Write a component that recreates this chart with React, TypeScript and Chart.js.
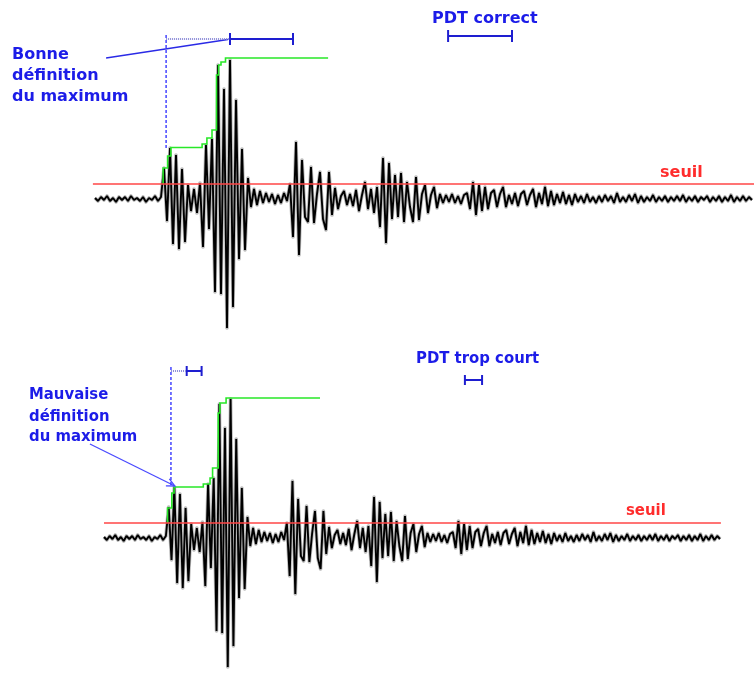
import React, { useEffect, useRef } from "react";
import { Chart, registerables } from "chart.js";
Chart.register(...registerables);

// Acoustic-emission waveform: one amplitude per sample (index = time in samples)
const signal: number[] = [
  1, -2, 2, -1, 3, -2, 1, -3, 2, -1,
  2, -2, 3, -1, 1, -2, 2, -3, 1, -1,
  3, -2, 2, 31, -22, 51, -45, 44, -50, 30,
  -43, 14, -12, 10, -14, 16, -48, 54, -30, 60,
  -93, 134, -95, 110, -129, 139, -108, 99, -60, 50,
  -51, 21, -8, 10, -6, 8, -4, 6, -3, 5,
  -5, 4, -4, 6, -2, 15, -38, 57, -56, 39,
  -18, -23, 32, -24, 5, 27, -20, -31, 27, -16,
  11, -10, 3, 8, -6, 5, -7, 9, -12, 4,
  17, -10, 10, -14, 12, -28, 41, -44, 36, -20,
  24, -18, 26, -23, 17, -8, -23, 22, -21, 5,
  14, -14, 4, 12, -9, 5, -4, 4, -3, 5,
  -4, 3, -5, 4, 6, -10, 17, -16, 14, -12,
  12, -10, 6, 9, -8, 5, 12, -8, 4, -5,
  6, -7, 5, 8, -6, 4, 10, -8, 6, -5,
  12, -7, 8, -6, 5, -4, 7, -5, 4, -6,
  5, -3, 3, -4, 5, -3, 2, -4, 3, -3,
  4, -2, 3, -4, 6, -3, 2, -3, 4, -2,
  5, -4, 3, -3, 2, -2, 4, -3, 2, -2,
  3, -3, 2, -2, 3, -2, 4, -3, 2, -2,
  3, -3, 2, -1, 3, -3, 2, -2, 3, -3,
  2, -2, 4, -3, 2, -2, 3, -2, 2, -1,
];

const thresholdLevel = 15;

// Running maximum (green step curve) — top: good definition, bottom: bad definition
const envTopTime = [22.7, 22.7, 24.2, 25.3, 35.7, 37.3, 39.0, 40.5, 41.2, 42.0, 43.5, 77.7];
const envTopAmp = [15, 31, 43, 51.5, 55, 61, 69, 124, 134, 137, 141, 141];
const envBotTime = [22.6, 22.6, 24.1, 24.9, 35.3, 37.7, 38.6, 40.6, 41.2, 43.4, 76.8];
const envBotAmp = [15, 30, 45, 51, 54, 60, 70, 125, 135, 140, 140];

// Threshold extent (sample time)
const thrTopSpan = [-0.7, 219.7];
const thrBotSpan = [0, 219.3];

// Onset marker (time) and its vertical extent (amplitude)
const onsetTop = 23.7;
const onsetTopAmp = [51, 166];
const onsetBot = 23.8;
const onsetBotAmp = [53, 173];

// Peak definition time (PDT): start = onset, end of dotted part = peak time, end of bar
const pdtTopTimes = [23.7, 45, 66];
const pdtTopAmp = 160;
const pdtBotTimes = [23.8, 29.4, 34.7];
const pdtBotAmp = 167;

// Legend bars "PDT correct" / "PDT trop court"
const pdtLegTopTimes = [117.7, 139];
const pdtLegTopAmp = 163;
const pdtLegBotTimes = [128.3, 134.4];
const pdtLegBotAmp = 158;

// Pointer lines
const pointerTopTime = [3.7, 44.3];
const pointerTopAmp = [141, 159.5];
const arrowBotTime = [-5.0, 25.2];
const arrowBotAmp = [94, 52];

const BLUE = "#1c1ce8";
const RED = "#ff2c2c";

const pts = (xs: number[], ys: number[]) => xs.map((x, i) => ({ x, y: ys[i] }));

const capBar = (t0: number, t1: number, a: number, h: number) => [
  { x: t0, y: a - h }, { x: t0, y: a + h }, { x: t0, y: a },
  { x: t1, y: a }, { x: t1, y: a + h }, { x: t1, y: a - h },
];

const base = { pointRadius: 0, fill: false, tension: 0 };

function buildDatasets(p: any) {
  const sig = signal.map((v, i) => ({ x: i, y: v }));
  return [
    { ...base, data: pts(p.thrSpan, [thresholdLevel, thresholdLevel]), borderColor: "rgb(255,70,70)", borderWidth: 1.6, order: 0 },
    { ...base, data: pts(p.envT, p.envA), borderColor: "rgb(40,232,40)", borderWidth: 1.6, stepped: true, order: 1 },
    { ...base, data: sig, borderColor: "#000", borderWidth: 1.9, borderJoinStyle: "bevel", order: 3 },
    { ...base, data: sig, borderColor: "rgba(120,120,120,0.5)", borderWidth: 3.6, borderJoinStyle: "round", order: 4 },
    { ...base, data: pts([p.onset, p.onset], p.onsetAmp), borderColor: "#3838ff", borderWidth: 1.4, borderDash: [3, 2], order: 2 },
    { ...base, data: pts([p.pdt[0], p.pdt[1]], [p.pdtAmp, p.pdtAmp]), borderColor: "#8c8cd8", borderWidth: 2.2, borderDash: [1, 1], order: 2 },
    { ...base, data: capBar(p.pdt[1], p.pdt[2], p.pdtAmp, p.cap), borderColor: "#1e1ed0", borderWidth: 2, order: 2 },
    { ...base, data: capBar(p.leg[0], p.leg[1], p.legAmp, p.cap), borderColor: "#1e1ed0", borderWidth: 2, order: 2 },
    { ...base, data: pts(p.ptrT, p.ptrA), borderColor: p.ptrColor, borderWidth: 1.3, order: 2 },
  ];
}

const panels = [
  {
    key: "top", top: 0, height: 340,
    xMin: -95 / 3, xMax: -95 / 3 + 754 / 3, yMin: -141, yMax: 199,
    thrSpan: thrTopSpan, envT: envTopTime, envA: envTopAmp,
    onset: onsetTop, onsetAmp: onsetTopAmp,
    pdt: pdtTopTimes, pdtAmp: pdtTopAmp, cap: 6,
    leg: pdtLegTopTimes, legAmp: pdtLegTopAmp,
    ptrT: pointerTopTime, ptrA: pointerTopAmp, ptrColor: "#2a2ae6", arrow: false,
    sx: 1,
    texts: [
      { t: "Bonne", x: 12, y: 59, c: BLUE },
      { t: "définition", x: 12, y: 80, c: BLUE },
      { t: "du maximum", x: 12, y: 101, c: BLUE },
      { t: "PDT correct", x: 432, y: 23, c: BLUE },
      { t: "seuil", x: 660, y: 177, c: RED },
    ],
  },
  {
    key: "bottom", top: 340, height: 343,
    xMin: -104 / 2.813, xMax: -104 / 2.813 + 754 / 2.813, yMin: -145, yMax: 198,
    thrSpan: thrBotSpan, envT: envBotTime, envA: envBotAmp,
    onset: onsetBot, onsetAmp: onsetBotAmp,
    pdt: pdtBotTimes, pdtAmp: pdtBotAmp, cap: 5,
    leg: pdtLegBotTimes, legAmp: pdtLegBotAmp,
    ptrT: arrowBotTime, ptrA: arrowBotAmp, ptrColor: "#4a4aff", arrow: true,
    sx: 0.93,
    texts: [
      { t: "Mauvaise", x: 29, y: 59, c: BLUE },
      { t: "définition", x: 29, y: 80.5, c: BLUE },
      { t: "du maximum", x: 29, y: 100.5, c: BLUE },
      { t: "PDT trop court", x: 416, y: 23, c: BLUE },
      { t: "seuil", x: 626, y: 175, c: RED },
    ],
  },
];

function Panel({ p }: { p: any }) {
  const ref = useRef<HTMLCanvasElement>(null);
  useEffect(() => {
    const overlay = {
      id: "overlay" + p.key,
      afterDraw(chart: any) {
        const ctx = chart.ctx;
        ctx.save();
        ctx.textBaseline = "alphabetic";
        ctx.textAlign = "left";
        ctx.font = "bold 16px 'DejaVu Sans', sans-serif";
        for (const tx of p.texts) {
          ctx.save();
          ctx.translate(tx.x, tx.y);
          ctx.scale(p.sx, 1);
          ctx.fillStyle = tx.c;
          ctx.fillText(tx.t, 0, 0);
          ctx.restore();
        }
        if (p.arrow) {
          const xs = chart.scales.x, ys = chart.scales.y;
          const x0 = xs.getPixelForValue(p.ptrT[0]), y0 = ys.getPixelForValue(p.ptrA[0]);
          const x1 = xs.getPixelForValue(p.ptrT[1]), y1 = ys.getPixelForValue(p.ptrA[1]);
          const ang = Math.atan2(y1 - y0, x1 - x0);
          const L = 9, w = 0.45;
          ctx.strokeStyle = p.ptrColor;
          ctx.lineWidth = 1.3;
          ctx.beginPath();
          ctx.moveTo(x1 - L * Math.cos(ang - w), y1 - L * Math.sin(ang - w));
          ctx.lineTo(x1, y1);
          ctx.lineTo(x1 - L * Math.cos(ang + w), y1 - L * Math.sin(ang + w));
          ctx.stroke();
        }
        ctx.restore();
      },
    };
    const chart = new Chart(ref.current as HTMLCanvasElement, {
      type: "line",
      data: { datasets: buildDatasets(p) as any },
      options: {
        animation: false,
        responsive: false,
        maintainAspectRatio: false,
        devicePixelRatio: 1,
        layout: { padding: 0 },
        events: [],
        plugins: { legend: { display: false }, tooltip: { enabled: false } },
        scales: {
          x: { type: "linear", display: false, min: p.xMin, max: p.xMax },
          y: { type: "linear", display: false, min: p.yMin, max: p.yMax },
        },
      },
      plugins: [overlay],
    });
    return () => chart.destroy();
  }, []);
  return (
    <canvas
      ref={ref}
      width={754}
      height={p.height}
      style={{ position: "absolute", left: 0, top: p.top, width: 754, height: p.height, display: "block" }}
    />
  );
}

export default function App() {
  return (
    <div style={{ position: "absolute", left: 0, top: 0, width: 754, height: 683, background: "#fff" }}>
      {panels.map((p) => (
        <Panel key={p.key} p={p} />
      ))}
    </div>
  );
}
